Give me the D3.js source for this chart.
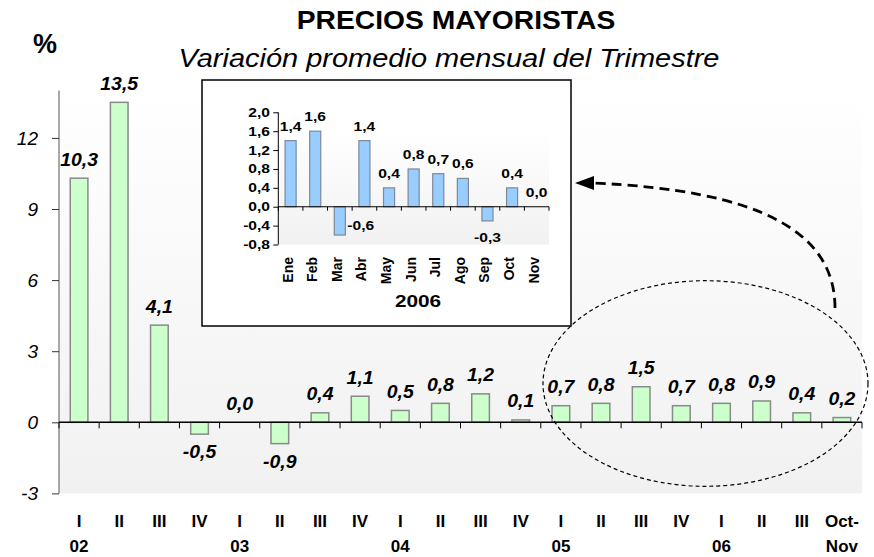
<!DOCTYPE html>
<html><head><meta charset="utf-8">
<script src="https://cdn.jsdelivr.net/npm/d3@7"></script>
<style>body{margin:0;background:#fff}svg{display:block}text{font-family:"Liberation Sans",Arial,sans-serif}</style>
</head><body><svg id="c" width="874" height="557"></svg>
<script>
// ---- data ----
const quarters = ["I","II","III","IV","I","II","III","IV","I","II","III","IV","I","II","III","IV","I","II","III","Oct-"];
const years = ["02","","","","03","","","","04","","","","05","","","","06","","","Nov"];
const values = [10.3,13.5,4.1,-0.5,0.0,-0.9,0.4,1.1,0.5,0.8,1.2,0.1,0.7,0.8,1.5,0.7,0.8,0.9,0.4,0.2];
const yTicks = [-3,0,3,6,9,12];
const insetMonths = ["Ene","Feb","Mar","Abr","May","Jun","Jul","Ago","Sep","Oct","Nov"];
const insetValues = [1.4,1.6,-0.6,1.4,0.4,0.8,0.7,0.6,-0.3,0.4,0.0];
const insetTicks = [-0.8,-0.4,0.0,0.4,0.8,1.2,1.6,2.0];
const insetYear = "2006";
const title = "PRECIOS MAYORISTAS";
const subtitle = "Variación promedio mensual del Trimestre";

const fmt = v => (v < 0 ? "-" : "") + Math.abs(v).toFixed(1).replace(".", ",");
const svg = d3.select("#c");
const defs = svg.append("defs");

function T(parent, x, y, s, o = {}) {
  const sx = o.sx || 1, sy = o.sy || 1;
  return parent.append("text")
    .attr("transform", `translate(${x},${y}) scale(${sx},${sy})` + (o.rot ? ` rotate(${o.rot})` : ""))
    .attr("text-anchor", o.anchor || "middle")
    .attr("font-size", o.size || 14)
    .attr("font-weight", o.bold ? "bold" : "normal")
    .attr("font-style", o.italic ? "italic" : "normal")
    .attr("fill", "#000")
    .text(s);
}

const grad = defs.append("linearGradient").attr("id", "bg").attr("x1", 0).attr("y1", 0).attr("x2", 0).attr("y2", 1);
grad.append("stop").attr("offset", "0%").attr("stop-color", "#ffffff");
grad.append("stop").attr("offset", "100%").attr("stop-color", "#f1f1f1");

// ---- main chart ----
const x = d3.scaleBand(d3.range(values.length), [59, 862]).paddingInner(0.56).paddingOuter(0.28);
const y = d3.scaleLinear([-3, 14], [493.4, 90.5]);

svg.append("rect").attr("x", 59).attr("y", y(14)).attr("width", 862 - 59).attr("height", y(-3) - y(14)).attr("fill", "url(#bg)");

svg.selectAll("rect.bar").data(values).join("rect").attr("class", "bar")
  .attr("x", (d, i) => x(i)).attr("width", x.bandwidth())
  .attr("y", d => y(Math.max(0, d))).attr("height", d => Math.abs(y(d) - y(0)))
  .attr("fill", "#ccffcc").attr("stroke", "#8a8a8a").attr("stroke-width", 1.5);

// y axis
const yAxis = svg.append("g").attr("transform", "translate(59,0)")
  .call(d3.axisLeft(y).tickValues(yTicks).tickSize(7).tickFormat(""));
yAxis.select(".domain").attr("stroke", "#555").attr("d", `M0,${y(14)}V${y(-3)}`);
yAxis.selectAll(".tick line").attr("stroke", "#333");
yTicks.forEach(t => T(svg, 38, y(t) + 7, String(t), { anchor: "end", size: 19, italic: true }));

// x axis at zero
const xAxis = svg.append("g").attr("transform", `translate(0,${y(0)})`);
xAxis.append("line").attr("x1", 59).attr("x2", 862).attr("stroke", "#000").attr("stroke-width", 1.5);
const step = x.step();
d3.range(values.length + 1).forEach(i => {
  const xx = 59 + i * step;
  xAxis.append("line").attr("x1", xx).attr("x2", xx).attr("y1", 0).attr("y2", 6).attr("stroke", "#000");
});
quarters.forEach((q, i) => T(svg, x(i) + x.bandwidth() / 2, 527, q, { size: 17, bold: true }));
years.forEach((q, i) => { if (q) T(svg, x(i) + x.bandwidth() / 2, 552, q, { size: 17, bold: true }); });

// value labels
values.forEach((v, i) => {
  const cx = x(i) + x.bandwidth() / 2;
  const yy = v >= 0 ? y(v) - 12.5 : y(v) + 24;
  T(svg, cx, yy, fmt(v), { size: 18, bold: true, italic: true, sx: 1.08 });
});

// titles
T(svg, 456, 29, title, { size: 25, bold: true, sx: 1.13 });
T(svg, 449, 67, subtitle, { size: 26, italic: true, sx: 1.115 });
T(svg, 33, 53, "%", { size: 27, bold: true, anchor: "start" });

// ---- inset ----
const ins = svg.append("g");
ins.append("rect").attr("x", 202).attr("y", 80).attr("width", 369).attr("height", 246)
  .attr("fill", "#fff").attr("stroke", "#000").attr("stroke-width", 1.5);
const ix = d3.scaleBand(d3.range(insetValues.length), [278.3, 549]).paddingInner(0.55).paddingOuter(0.275);
const iy = d3.scaleLinear([-0.8, 2.0], [244.5, 112.3]);
ins.append("rect").attr("x", 278.3).attr("y", iy(1.6)).attr("width", 549 - 278.3).attr("height", iy(-0.8) - iy(1.6)).attr("fill", "url(#bg)");
ins.selectAll("rect.ibar").data(insetValues).join("rect").attr("class", "ibar")
  .attr("x", (d, i) => ix(i)).attr("width", ix.bandwidth())
  .attr("y", d => iy(Math.max(0, d))).attr("height", d => Math.abs(iy(d) - iy(0)))
  .attr("fill", "#99ccff").attr("stroke", "#7d8a99").attr("stroke-width", 1.2);
const iyAxis = ins.append("g").attr("transform", "translate(278.3,0)")
  .call(d3.axisLeft(iy).tickValues(insetTicks).tickSize(5).tickFormat(""));
iyAxis.select(".domain").attr("stroke", "#000").attr("d", `M0,${iy(2.0)}V${iy(-0.8)}`);
iyAxis.selectAll(".tick line").attr("stroke", "#000");
insetTicks.forEach(t => T(ins, 270, iy(t) + 4.5, fmt(t), { anchor: "end", size: 12, bold: true, sx: 1.3 }));
ins.append("line").attr("x1", 278.3).attr("x2", 549).attr("y1", iy(0)).attr("y2", iy(0)).attr("stroke", "#000").attr("stroke-width", 1.2);
d3.range(insetValues.length + 1).forEach(i => {
  const xx = 278.3 + i * ix.step();
  ins.append("line").attr("x1", xx).attr("x2", xx).attr("y1", iy(0)).attr("y2", iy(0) + 4).attr("stroke", "#000");
});
insetMonths.forEach((m, i) => T(ins, ix(i) + ix.bandwidth() / 2 + 2, 257, m, { size: 14, bold: true, anchor: "end", rot: -90 }));
T(ins, 418, 307, insetYear, { size: 16, bold: true, sx: 1.3 });
insetValues.forEach((v, i) => {
  const cx = ix(i) + ix.bandwidth() / 2;
  if (v >= 0) T(ins, cx, iy(v) - 10, fmt(v), { size: 12, bold: true, sx: 1.3 });
  else if (i === 2) T(ins, ix(i) + ix.bandwidth() + 2, iy(v) - 5, fmt(v), { size: 12, bold: true, sx: 1.3, anchor: "start" });
  else T(ins, cx, iy(v) + 21, fmt(v), { size: 12, bold: true, sx: 1.3 });
});

// ---- annotations ----
svg.append("ellipse").attr("cx", 705.5).attr("cy", 383.5).attr("rx", 162.5).attr("ry", 102.8)
  .attr("fill", "none").attr("stroke", "#000").attr("stroke-width", 1.2).attr("stroke-dasharray", "4,3");
svg.append("path").attr("d", "M835,308 C835,232 760,190 592,183")
  .attr("fill", "none").attr("stroke", "#000").attr("stroke-width", 2.8).attr("stroke-dasharray", "10,6");
svg.append("path").attr("d", "M575,183 L594,176 L594,190 Z").attr("fill", "#000");
</script></body></html>
